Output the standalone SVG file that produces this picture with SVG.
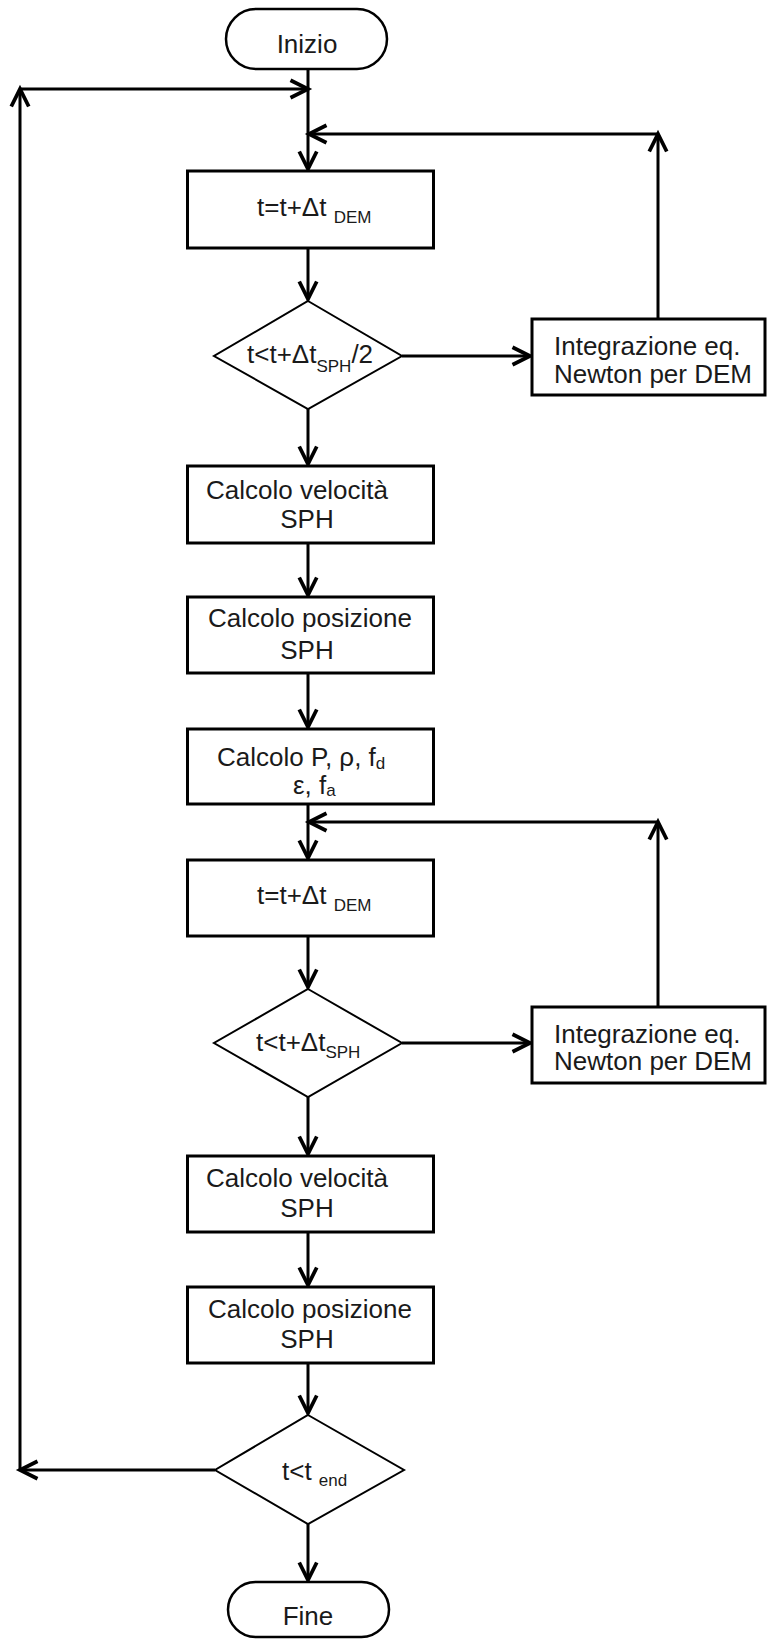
<svg xmlns="http://www.w3.org/2000/svg" width="767" height="1639" viewBox="0 0 767 1639">
<style>
.box{fill:#fff;stroke:#000;stroke-width:3}
.dia{fill:#fff;stroke:#000;stroke-width:2}
.term{fill:#fff;stroke:#000;stroke-width:2.5}
.t{font-family:"Liberation Sans",Arial,sans-serif;font-size:26px;fill:#1a1a1a}
.c{text-anchor:middle}
.sub{font-size:17px}
.con line{stroke:#000;stroke-width:3;fill:none}
</style>
<defs>
<marker id="arr" markerUnits="userSpaceOnUse" markerWidth="30" markerHeight="30" viewBox="-18 -12 24 24" refX="0" refY="0" orient="auto">
<path d="M -14 -7 L 0 0 L -14 7" fill="none" stroke="#000" stroke-width="3"/>
</marker>
</defs>
<rect width="767" height="1639" fill="#fff"/>
<g id="connectors" class="con">
<line x1="308" y1="69" x2="308" y2="169" marker-end="url(#arr)"/>
<line x1="308" y1="248" x2="308" y2="299" marker-end="url(#arr)"/>
<line x1="402" y1="356" x2="530" y2="356" marker-end="url(#arr)"/>
<line x1="658" y1="319" x2="658" y2="134" marker-end="url(#arr)"/>
<line x1="658" y1="134" x2="309" y2="134" marker-end="url(#arr)"/>
<line x1="308" y1="409" x2="308" y2="464" marker-end="url(#arr)"/>
<line x1="308" y1="543" x2="308" y2="595" marker-end="url(#arr)"/>
<line x1="308" y1="673" x2="308" y2="727" marker-end="url(#arr)"/>
<line x1="308" y1="804" x2="308" y2="858" marker-end="url(#arr)"/>
<line x1="658" y1="1007" x2="658" y2="822" marker-end="url(#arr)"/>
<line x1="658" y1="822" x2="309" y2="822" marker-end="url(#arr)"/>
<line x1="308" y1="936" x2="308" y2="987" marker-end="url(#arr)"/>
<line x1="402" y1="1043" x2="530" y2="1043" marker-end="url(#arr)"/>
<line x1="308" y1="1097" x2="308" y2="1154" marker-end="url(#arr)"/>
<line x1="308" y1="1232" x2="308" y2="1285" marker-end="url(#arr)"/>
<line x1="308" y1="1363" x2="308" y2="1413" marker-end="url(#arr)"/>
<line x1="308" y1="1524" x2="308" y2="1580" marker-end="url(#arr)"/>
<line x1="215" y1="1470" x2="20" y2="1470" marker-end="url(#arr)"/>
<line x1="20" y1="1470" x2="20" y2="89" marker-end="url(#arr)"/>
<line x1="20" y1="89" x2="308" y2="89" marker-end="url(#arr)"/>
</g>
<g id="inizio">
<rect class="term" x="226" y="9" width="161" height="60" rx="30" ry="30"/>
<text class="t c" x="307" y="53">Inizio</text>
</g>
<g id="step1">
<rect class="box" x="187.5" y="171" width="246" height="77"/>
<text class="t" x="257" y="216">t=t+Δt <tspan class="sub" dy="7">DEM</tspan></text>
</g>
<g id="dec1">
<polygon class="dia" points="308,301 402,356 308,409 214,356"/>
<text class="t" x="247" y="363">t&lt;t+Δt<tspan class="sub" dy="9">SPH</tspan><tspan dy="-9">/2</tspan></text>
</g>
<g id="integ1">
<rect class="box" x="532" y="319" width="233" height="76"/>
<text class="t" x="554" y="355">Integrazione eq.</text>
<text class="t" x="554" y="383">Newton per DEM</text>
</g>
<g id="vel1">
<rect class="box" x="187.5" y="466" width="246" height="77"/>
<text class="t c" x="297" y="499">Calcolo velocità</text>
<text class="t c" x="307" y="528">SPH</text>
</g>
<g id="pos1">
<rect class="box" x="187.5" y="597" width="246" height="76"/>
<text class="t c" x="310" y="627">Calcolo  posizione</text>
<text class="t c" x="307" y="659">SPH</text>
</g>
<g id="calcP">
<rect class="box" x="187.5" y="729" width="246" height="75"/>
<text class="t" x="217" y="766">Calcolo P, ρ, f<tspan class="sub" dy="3">d</tspan></text>
<text class="t" x="293" y="794">ε, f<tspan class="sub" dy="2">a</tspan></text>
</g>
<g id="step2">
<rect class="box" x="187.5" y="860" width="246" height="76"/>
<text class="t" x="257" y="904">t=t+Δt <tspan class="sub" dy="7">DEM</tspan></text>
</g>
<g id="dec2">
<polygon class="dia" points="308,989 402,1043 308,1097 214,1043"/>
<text class="t" x="256" y="1051">t&lt;t+Δt<tspan class="sub" dy="7">SPH</tspan></text>
</g>
<g id="integ2">
<rect class="box" x="532" y="1007" width="233" height="76"/>
<text class="t" x="554" y="1043">Integrazione eq.</text>
<text class="t" x="554" y="1070">Newton per DEM</text>
</g>
<g id="vel2">
<rect class="box" x="187.5" y="1156" width="246" height="76"/>
<text class="t c" x="297" y="1187">Calcolo velocità</text>
<text class="t c" x="307" y="1217">SPH</text>
</g>
<g id="pos2">
<rect class="box" x="187.5" y="1287" width="246" height="76"/>
<text class="t c" x="310" y="1318">Calcolo  posizione</text>
<text class="t c" x="307" y="1348">SPH</text>
</g>
<g id="dec3">
<polygon class="dia" points="308,1415 404,1470 308,1524 215,1470"/>
<text class="t" x="282" y="1480">t&lt;t <tspan class="sub" dy="6">end</tspan></text>
</g>
<g id="fine">
<rect class="term" x="228" y="1582" width="161" height="55" rx="27.5" ry="27.5"/>
<text class="t c" x="308" y="1625">Fine</text>
</g>
</svg>
